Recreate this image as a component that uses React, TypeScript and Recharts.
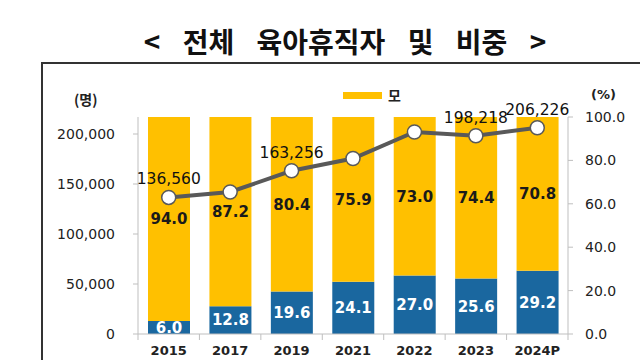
import React from "react";
import { ComposedChart, Bar, Line, XAxis, YAxis, LabelList } from "recharts";

const years = ["2015", "2017", "2019", "2021", "2022", "2023", "2024P"];
const fatherShare = [6.0, 12.8, 19.6, 24.1, 27.0, 25.6, 29.2];
const motherShare = [94.0, 87.2, 80.4, 75.9, 73.0, 74.4, 70.8];
const totalLeave = [136560, 142000, 163256, 175500, 202000, 198218, 206226];
const totalLabels = ["136,560", "", "163,256", "", "", "198,218", "206,226"];
const countTicks = [0, 50000, 100000, 150000, 200000];
const shareTicks = [0, 20, 40, 60, 80, 100];

const data = years.map((y, i) => ({
  year: y,
  father: fatherShare[i],
  mother: motherShare[i],
  total: totalLeave[i],
}));

const FONT = "'DejaVu Sans', Verdana, sans-serif";
const KR = "'Noto Sans CJK KR', sans-serif";
const YELLOW = "#FFC000";
const BLUE = "#1A679F";
const GRAY_LINE = "#595959";
const AXIS = "#BFBFBF";
const BAND = 430 / 7;

function YearTick(props: any) {
  const { x, index, payload } = props;
  const last = index === years.length - 1;
  return (
    <g>
      <line x1={x - BAND / 2} y1={334} x2={x - BAND / 2} y2={340} stroke={AXIS} />
      {last && <line x1={x + BAND / 2} y1={334} x2={x + BAND / 2} y2={340} stroke={AXIS} />}
      <text x={x} y={355} textAnchor="middle" fontFamily={FONT} fontSize={13} fontWeight="bold" fill="#222">
        {payload.value}
      </text>
    </g>
  );
}

function TotalLabel(props: any) {
  const { x, y, index } = props;
  const t = totalLabels[index];
  if (!t) return null;
  return (
    <text x={x} y={y - 13} textAnchor="middle" fontFamily={FONT} fontSize={15.5} fill="#111">
      {t}
    </text>
  );
}

export default function App() {
  return (
    <div style={{ position: "absolute", left: 0, top: 0, width: 640, height: 360, background: "#fff", overflow: "hidden" }}>
      <div
        style={{
          position: "absolute",
          left: 0,
          width: 640,
          top: 22,
          textAlign: "center",
          paddingLeft: 50,
          boxSizing: "border-box",
          fontFamily: KR,
          fontWeight: 700,
          fontSize: 28,
          lineHeight: "38px",
          wordSpacing: 16,
          color: "#111",
        }}
      >
        {"< 전체 육아휴직자 및 비중 >"}
      </div>
      <div style={{ position: "absolute", left: 41, top: 62, width: 640, height: 340, borderTop: "2px solid #333", borderLeft: "2px solid #333" }} />
      <div style={{ position: "absolute", left: 74, top: 89, fontFamily: KR, fontSize: 14, fontWeight: 700, color: "#222" }}>
        (명)
      </div>
      <div style={{ position: "absolute", left: 591, top: 87, fontFamily: FONT, fontSize: 13, fontWeight: "bold", color: "#222" }}>
        (%)
      </div>
      <div style={{ position: "absolute", left: 343, top: 86, display: "flex", alignItems: "center", color: "#222" }}>
        <span style={{ display: "inline-block", width: 39, height: 7, background: YELLOW, marginRight: 6 }} />
        <span style={{ fontFamily: KR, fontSize: 14, fontWeight: 700, lineHeight: "18px" }}>모</span>
      </div>
      <div style={{ position: "absolute", left: 0, top: 0 }}>
        <ComposedChart width={640} height={360} data={data} margin={{ top: 117, right: 0, bottom: 0, left: 0 }}>
          <XAxis
            dataKey="year"
            xAxisId="x"
            height={26}
            tick={<YearTick />}
            tickLine={false}
            axisLine={{ stroke: AXIS }}
            interval={0}
          />
          <YAxis
            yAxisId="left"
            orientation="left"
            width={138}
            domain={[0, 217000]}
            ticks={countTicks}
            tickFormatter={(v) => v.toLocaleString("en-US")}
            tick={{ fontFamily: FONT, fontSize: 14, fill: "#222" }}
            tickSize={5}
            tickMargin={18}
            tickLine={{ stroke: AXIS }}
            axisLine={{ stroke: AXIS }}
            allowDataOverflow
          />
          <YAxis
            yAxisId="right"
            orientation="right"
            width={72}
            domain={[0, 100]}
            ticks={shareTicks}
            tickFormatter={(v) => Number(v).toFixed(1)}
            tick={{ fontFamily: FONT, fontSize: 14, fill: "#222", textAnchor: "start" }}
            tickSize={5}
            tickMargin={12}
            tickLine={{ stroke: AXIS }}
            axisLine={{ stroke: AXIS }}
          />
          <Bar dataKey="father" xAxisId="x" yAxisId="right" stackId="s" fill={BLUE} barSize={42} isAnimationActive={false}>
            <LabelList dataKey="father" position="center" formatter={(v: any) => Number(v).toFixed(1)} fill="#fff" fontFamily={FONT} fontSize={15} fontWeight="bold" />
          </Bar>
          <Bar dataKey="mother" xAxisId="x" yAxisId="right" stackId="s" fill={YELLOW} barSize={42} isAnimationActive={false}>
            <LabelList dataKey="mother" position="center" formatter={(v: any) => Number(v).toFixed(1)} fill="#1a1a1a" fontFamily={FONT} fontSize={15} fontWeight="bold" />
          </Bar>
          <Line
            dataKey="total"
            xAxisId="x"
            yAxisId="left"
            stroke={GRAY_LINE}
            strokeWidth={4}
            dot={{ r: 7, fill: "#fff", stroke: GRAY_LINE, strokeWidth: 1.5 }}
            label={<TotalLabel />}
            isAnimationActive={false}
          />
        </ComposedChart>
      </div>
    </div>
  );
}
